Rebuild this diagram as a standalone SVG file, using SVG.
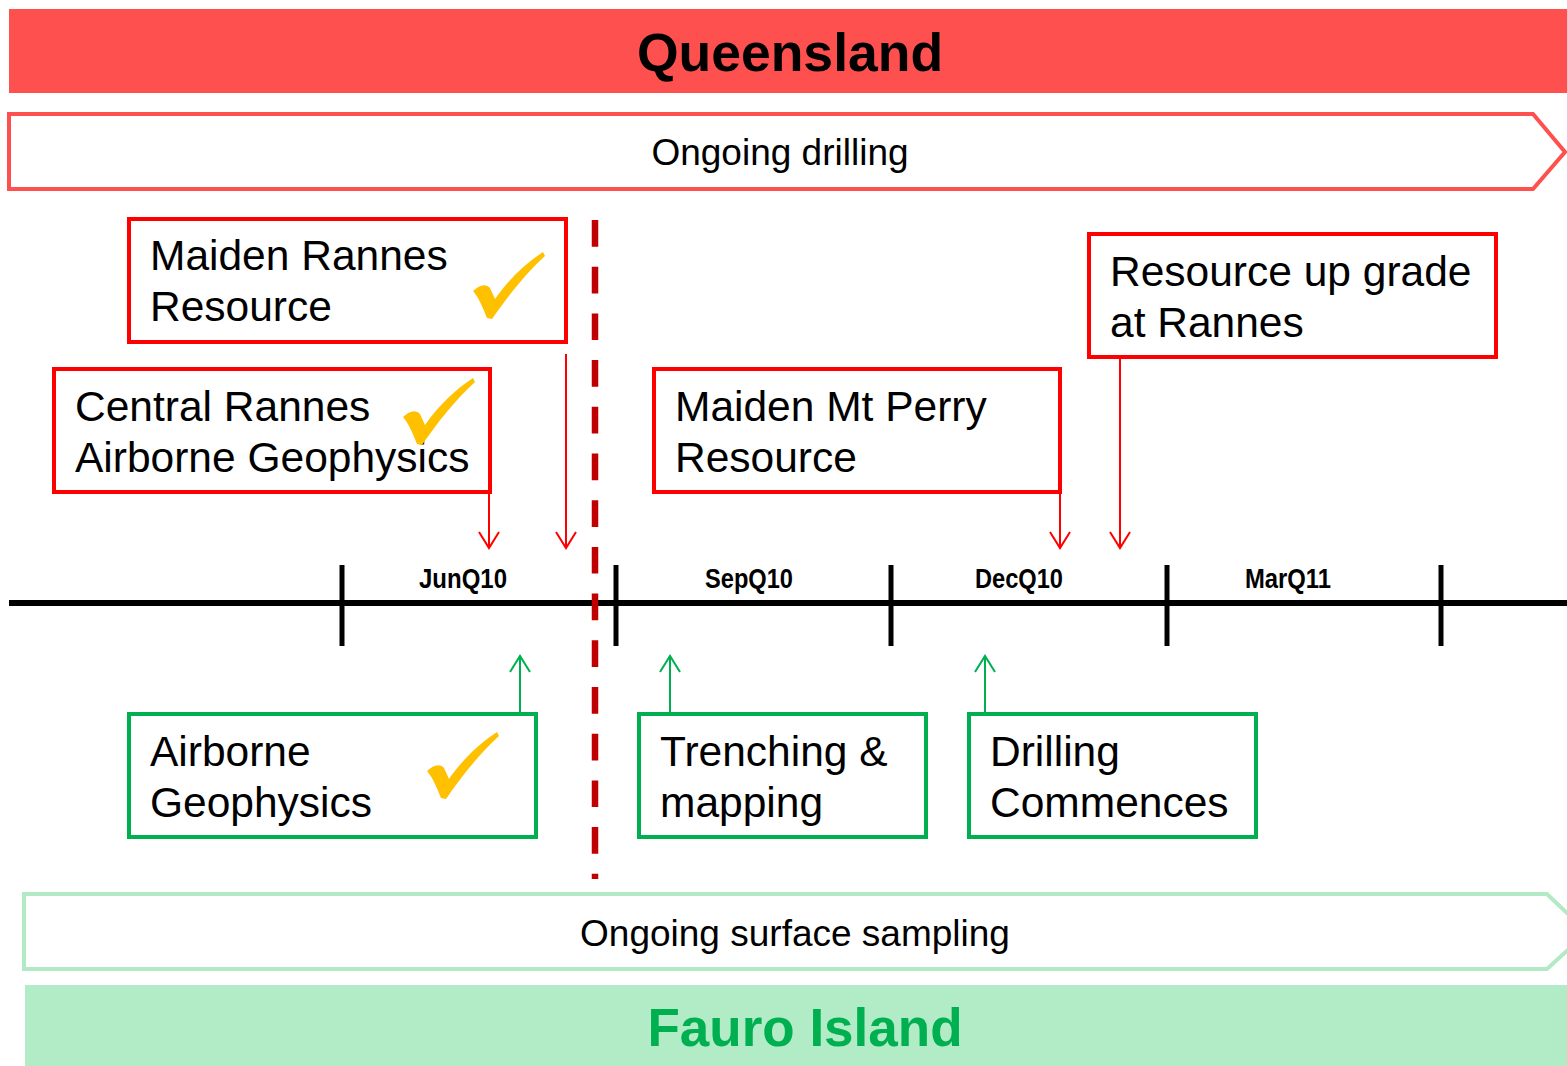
<svg xmlns="http://www.w3.org/2000/svg" width="1567" height="1066" viewBox="0 0 1567 1066">
<style>
text{font-family:"Liberation Sans",Arial,sans-serif;fill:#000}
.big{font-size:42.5px}
.lbl{font-size:37px}
.q{font-size:27px;font-weight:bold}
.redbox{fill:#fff;stroke:#FF0000;stroke-width:4}
.grnbox{fill:#fff;stroke:#00B050;stroke-width:4}
.ra{stroke:#FF0000;stroke-width:2;fill:none}
.ga{stroke:#00B050;stroke-width:2;fill:none}
.tick{stroke:#000;stroke-width:5}
</style>
<defs>
<path id="chk" d="M0,39 C6,33 13,31 17,36 L22,47 C35,28 53,11 70,0 L72,4 C54,20 34,45 19,67 L14,66 C10,56 6,46 0,39 Z" fill="#FFC000"/>
</defs>
<g id="queensland-banner">
<rect x="9" y="9" width="1558" height="84" fill="#FF5050"/>
<text x="790" y="71" text-anchor="middle" font-size="53.5" font-weight="bold">Queensland</text>
</g>
<g id="ongoing-drilling">
<path d="M9,114 H1533 L1565,152 L1533,189 H9 Z" fill="#fff" stroke="#FF5050" stroke-width="4"/>
<text x="780" y="165" text-anchor="middle" class="lbl">Ongoing drilling</text>
</g>
<g id="timeline">
<line x1="9" y1="603" x2="1567" y2="603" stroke="#000" stroke-width="6"/>
<line class="tick" x1="342" y1="565" x2="342" y2="646"/>
<line class="tick" x1="616" y1="565" x2="616" y2="646"/>
<line class="tick" x1="891" y1="565" x2="891" y2="646"/>
<line class="tick" x1="1167" y1="565" x2="1167" y2="646"/>
<line class="tick" x1="1441" y1="565" x2="1441" y2="646"/>
<text class="q" x="463" y="588" text-anchor="middle" textLength="88" lengthAdjust="spacingAndGlyphs">JunQ10</text>
<text class="q" x="749" y="588" text-anchor="middle" textLength="88" lengthAdjust="spacingAndGlyphs">SepQ10</text>
<text class="q" x="1019" y="588" text-anchor="middle" textLength="88" lengthAdjust="spacingAndGlyphs">DecQ10</text>
<text class="q" x="1288" y="588" text-anchor="middle" textLength="86" lengthAdjust="spacingAndGlyphs">MarQ11</text>
</g>
<g id="today-line">
<line x1="595" y1="220" x2="595" y2="879" stroke="#C00000" stroke-width="6.5" stroke-dasharray="26.7 20"/>
</g>
<g id="maiden-rannes">
<rect class="redbox" x="129" y="219" width="437" height="123"/>
<text class="big" x="150" y="270">Maiden Rannes</text>
<text class="big" x="150" y="321">Resource</text>
<use href="#chk" transform="translate(473,252)"/>
</g>
<g id="central-rannes">
<rect class="redbox" x="54" y="369" width="436" height="123"/>
<text class="big" x="75" y="421">Central Rannes</text>
<text class="big" x="75" y="472">Airborne Geophysics</text>
<use href="#chk" transform="translate(403,378)"/>
</g>
<g id="maiden-mt-perry">
<rect class="redbox" x="654" y="369" width="406" height="123"/>
<text class="big" x="675" y="421">Maiden Mt Perry</text>
<text class="big" x="675" y="472">Resource</text>
</g>
<g id="resource-upgrade">
<rect class="redbox" x="1089" y="234" width="407" height="123"/>
<text class="big" x="1110" y="286">Resource up grade</text>
<text class="big" x="1110" y="337">at Rannes</text>
</g>
<g id="airborne-geophysics">
<rect class="grnbox" x="129" y="714" width="407" height="123"/>
<text class="big" x="150" y="766">Airborne</text>
<text class="big" x="150" y="817">Geophysics</text>
<use href="#chk" transform="translate(427,732)"/>
</g>
<g id="trenching">
<rect class="grnbox" x="639" y="714" width="287" height="123"/>
<text class="big" x="660" y="766">Trenching &amp;</text>
<text class="big" x="660" y="817">mapping</text>
</g>
<g id="drilling-commences">
<rect class="grnbox" x="969" y="714" width="287" height="123"/>
<text class="big" x="990" y="766">Drilling</text>
<text class="big" x="990" y="817">Commences</text>
</g>
<g id="connectors">
<path class="ra" d="M489,492 V548 M479,532 L489,548 L499,532"/>
<path class="ra" d="M566,354 V548 M556,532 L566,548 L576,532"/>
<path class="ra" d="M1060,492 V548 M1050,532 L1060,548 L1070,532"/>
<path class="ra" d="M1120,357 V548 M1110,532 L1120,548 L1130,532"/>
<path class="ga" d="M520,714 V656 M510,672 L520,656 L530,672"/>
<path class="ga" d="M670,714 V656 M660,672 L670,656 L680,672"/>
<path class="ga" d="M985,714 V656 M975,672 L985,656 L995,672"/>
</g>
<g id="ongoing-surface-sampling">
<path d="M24,894 H1547 L1569,915 V949 L1547,969 H24 Z" fill="#fff" stroke="#B3EAC6" stroke-width="4"/>
<text x="795" y="946" text-anchor="middle" class="lbl">Ongoing surface sampling</text>
</g>
<g id="fauro-banner">
<rect x="25" y="985" width="1542" height="81" fill="#B1ECC6"/>
<text x="805" y="1046" text-anchor="middle" font-size="53" font-weight="bold" style="fill:#00B050">Fauro Island</text>
</g>
</svg>
